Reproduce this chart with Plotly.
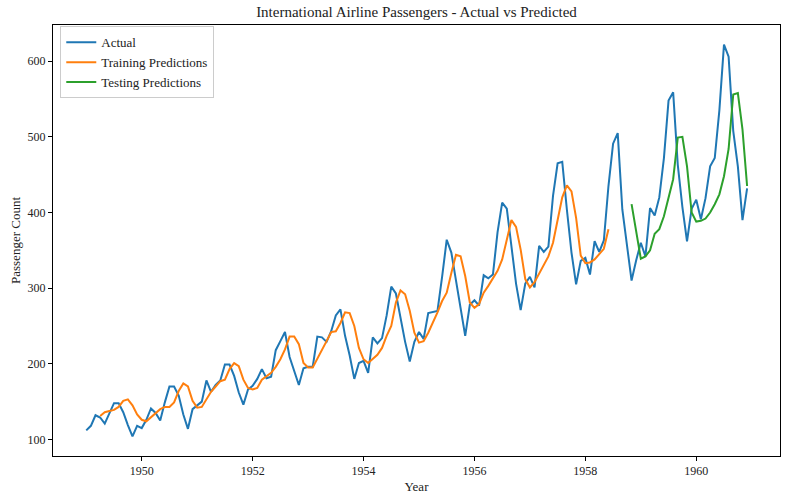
import plotly.graph_objects as go

start_year = 1949
actual = [112, 118, 132, 129, 121, 135, 148, 148, 136, 119, 104, 118,
          115, 126, 141, 135, 125, 149, 170, 170, 158, 133, 114, 140,
          145, 150, 178, 163, 172, 178, 199, 199, 184, 162, 146, 166,
          171, 180, 193, 181, 183, 218, 230, 242, 209, 191, 172, 194,
          196, 196, 236, 235, 229, 243, 264, 272, 237, 211, 180, 201,
          204, 188, 235, 227, 234, 264, 302, 293, 259, 229, 203, 229,
          242, 233, 267, 269, 270, 315, 364, 347, 312, 274, 237, 278,
          284, 277, 317, 313, 318, 374, 413, 405, 355, 306, 271, 306,
          315, 301, 356, 348, 355, 422, 465, 467, 404, 347, 305, 336,
          340, 318, 362, 348, 363, 435, 491, 505, 404, 359, 310, 337,
          360, 342, 406, 396, 420, 472, 548, 559, 463, 407, 362, 405,
          417, 391, 419, 461, 472, 535, 622, 606, 508, 461, 390, 432]

train_start = 3
train_pred = [131, 136, 137.5, 139, 143, 151, 153, 145, 133,
              126, 124, 129, 134, 140, 143, 143, 149, 164, 174, 170, 151,
              142, 143, 153, 163, 170, 177, 179, 193, 201, 197, 179, 168,
              166, 168, 179, 184, 188, 196, 206, 219, 236, 236, 226, 201,
              195, 195, 206, 217, 230, 242, 243, 254, 268, 267, 250, 221,
              206, 201, 206, 212, 221, 237, 250, 281, 297, 292, 270, 241,
              228, 230, 241, 254, 268, 283, 294, 320, 344, 342, 316, 281,
              274, 279, 294, 303, 314, 323, 338, 362, 390, 381, 351, 312,
              301, 308, 320, 331, 342, 360, 389, 420, 436, 428, 393, 343,
              333, 334, 338, 345, 352, 378]

test_start = 118
test_pred = [411, 376, 339, 342, 350, 372, 378, 395, 418, 444, 499, 500,
             461, 400, 388, 389, 392, 400, 411, 424, 448, 484, 556, 558,
             510, 435]

x_actual = [start_year + i / 12 for i in range(len(actual))]
x_train = [start_year + (train_start + i) / 12 for i in range(len(train_pred))]
x_test = [start_year + (test_start + i) / 12 for i in range(len(test_pred))]

FONT = "Liberation Serif"

fig = go.Figure()
fig.add_trace(go.Scatter(x=x_actual, y=actual, mode="lines", name="Actual",
                         line=dict(color="#1f77b4", width=2)))
fig.add_trace(go.Scatter(x=x_train, y=train_pred, mode="lines", name="Training Predictions",
                         line=dict(color="#ff7f0e", width=2)))
fig.add_trace(go.Scatter(x=x_test, y=test_pred, mode="lines", name="Testing Predictions",
                         line=dict(color="#2ca02c", width=2)))

axis_common = dict(showline=True, linecolor="black", linewidth=1, mirror=True,
                   ticks="outside", ticklen=4, tickcolor="black", showgrid=False,
                   zeroline=False, automargin=False,
                   tickfont=dict(family=FONT, size=12, color="#222"))

fig.update_layout(
    width=786, height=499,
    margin=dict(l=53, r=6, t=25, b=43),
    paper_bgcolor="white", plot_bgcolor="white",
    title=dict(text="International Airline Passengers - Actual vs Predicted",
               x=0.5, xanchor="center", xref="paper", y=0.976, yanchor="middle", yref="container",
               font=dict(family=FONT, size=15, color="#222")),
    xaxis=dict(range=[1948.40, 1961.51], tickvals=[1950, 1952, 1954, 1956, 1958, 1960],
               title=dict(text="Year", font=dict(family=FONT, size=13, color="#222"), standoff=4),
               **axis_common),
    yaxis=dict(range=[78.1, 647.9], tickvals=[100, 200, 300, 400, 500, 600],
               title=dict(text="Passenger Count", font=dict(family=FONT, size=13, color="#222"), standoff=4),
               **axis_common),
    legend=dict(x=0.01, y=0.997, xanchor="left", yanchor="top", itemwidth=30,
                bgcolor="rgba(255,255,255,0.8)", bordercolor="#cccccc", borderwidth=1,
                font=dict(family=FONT, size=13, color="#222"), tracegroupgap=0),
    showlegend=True,
)

fig.write_html("out.html", config={"displayModeBar": False},
               post_script="document.body.style.margin='0';document.body.style.overflow='hidden';")
